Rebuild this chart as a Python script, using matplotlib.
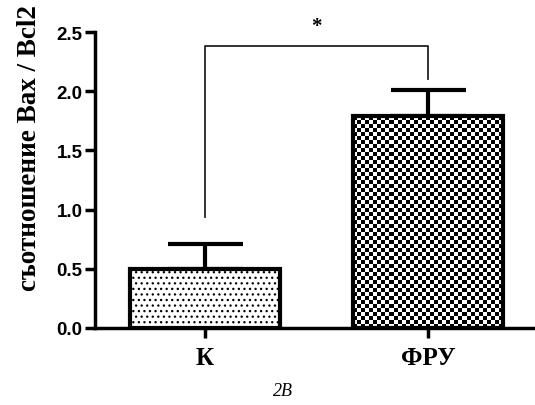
import matplotlib.pyplot as plt
import numpy as np

groups = ['К', 'ФРУ']
means = [0.50, 1.79]
errs = [0.21, 0.22]
yticks = [0.0, 0.5, 1.0, 1.5, 2.0, 2.5]
ylabel = 'съотношение Bax / Bcl2'
bracket_y = 2.38
bracket_ends = [0.94, 2.10]
panel = '2B'

plt.rcParams['hatch.color'] = '#333333'
plt.rcParams['hatch.linewidth'] = 0.9

fig = plt.figure(figsize=(5.35, 4.06), dpi=100)
ax = fig.add_axes([0.1776, 0.1897, 0.8224, 0.729])

x = np.arange(len(groups))
bars = ax.bar(x, means, width=0.67, color='white', edgecolor='black',
              linewidth=3, zorder=3)
bars[0].set_hatch('...')
bars[1].set_facecolor('none')

ax.errorbar(x, means, yerr=[np.zeros(len(errs)), errs], fmt='none',
            ecolor='black', elinewidth=3, capsize=27, capthick=3, zorder=2)

ax.set_xlim(-0.493, 1.48)
ax.set_ylim(0, 2.5)

# checkerboard fill for the second bar
fig.canvas.draw()
b = bars[1]
bb = b.get_window_extent()
cell = 4.0
nx = int(round(bb.width / cell))
ny = int(round(bb.height / cell))
ii, jj = np.indices((ny, nx))
checker = ((ii + jj) % 2).astype(float)
x0, y0 = b.get_x(), b.get_y()
im = ax.imshow(checker, cmap='gray', interpolation='nearest', aspect='auto',
               extent=[x0, x0 + b.get_width(), y0, y0 + b.get_height()],
               zorder=2.5, vmin=0, vmax=1)
im.set_clip_path(b)
ax.set_xlim(-0.493, 1.48)
ax.set_ylim(0, 2.5)

# significance bracket
ax.plot([x[0], x[0], x[1], x[1]],
        [bracket_ends[0], bracket_y, bracket_y, bracket_ends[1]],
        color='#222222', lw=1.3, clip_on=False)
ax.text((x[0] + x[1]) / 2, bracket_y + 0.09, '*', ha='center', va='bottom',
        fontsize=15, fontweight='bold', family='Liberation Serif')

for s in ['top', 'right']:
    ax.spines[s].set_visible(False)
ax.spines['left'].set_linewidth(2.5)
ax.spines['bottom'].set_linewidth(2.5)

ax.set_yticks(yticks)
ax.set_yticklabels([f'{v:.1f}' for v in yticks], fontsize=13.5,
                   fontweight='bold', family='Liberation Sans')
ax.set_xticks(x)
ax.set_xticklabels(groups, fontsize=18, fontweight='bold',
                   family='Liberation Serif')
ax.tick_params(axis='both', width=2.5, length=7, direction='out')
ax.tick_params(axis='y', pad=2)
ax.tick_params(axis='x', pad=6)

ax.set_ylabel(ylabel, fontsize=19.5, fontweight='bold', family='Liberation Serif')
ax.yaxis.set_label_coords(-0.12, 0.61)

fig.text(0.529, 0.035, panel, ha='center', va='center', fontsize=13,
         style='italic', family='Liberation Serif')

fig.savefig('out.png', dpi=100)
